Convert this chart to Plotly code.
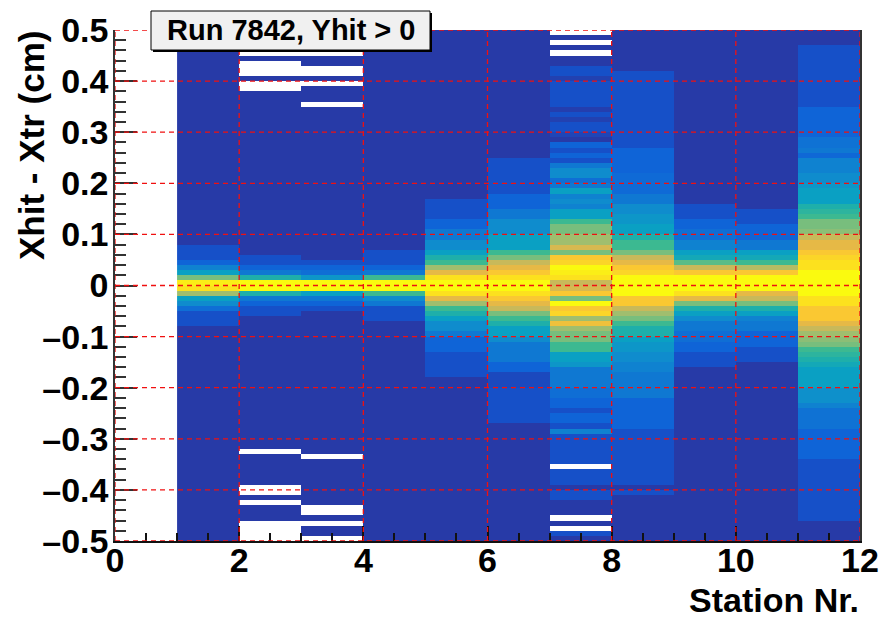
import plotly.graph_objects as go

N = None  # empty bin (white)

# Colour level (log-count class) per y bin, listed from y=+0.495 down to y=-0.495
station_1 = [0]*42 + [1,1,1,2,3.5,5,8,13.5] + [13,9,5,4,2.5,1,1,1] + [0]*42
station_2 = [0]*4 + [N,0,N,N,N,0,N,N] + [0]*32 + [1,1,2,3,6,14] + [14,6,3,2,1,1] + [0]*26 + [N] + [0]*6 + [N,N,0,N,0,0,0,N,N,N,N]
station_3 = [0]*4 + [N,0,0,N,N,0,N,0,0,0,N] + [0]*30 + [1,2,2.5,4.5,14] + [14,5,3,2,1] + [0]*28 + [N] + [0]*9 + [N,N,0,N,0,0,N]
station_4 = [0]*43 + [1,1,1,2,3,7,14] + [14,7,4,3,1,1,1] + [0]*43
station_5 = [0]*33 + [1,1,1,1,2,2,3,3,4,4,5,6,7,9,11,13,14] + [14,13,11,9,7,6,5,4,4,3,2,2,2,1,1,1,1,1] + [0]*32
station_6 = [0]*25 + [1,1,1,1,1,1,1,2,2,2,3,3,4,4,4,5,5,5,7,8,10,11,12,13,14] + [14,13,12,11,10,8,7,6,5,5,4,3,3,3,3,2,2,0.7,0.7,0.7,1,1,1,1,1,1,1] + [0]*23
station_7 = [N,0,N,0,N,0,0,1,1,0.3,1,1,1,1,1,0.2,1,0.3,1,1,0.5,0,2,1,2,1,3,4,4,2.5,3,5,3.5,4,3.5,5,5,7,8,8,9,9,10.5,8,12,12.5,14,13.5,13,10] + \
            [10.5,12,8,14,12,12.5,9,11.5,9,8,8,7,7,5,5,4.5,3,3,3,3,2.5,2.5,2,2,1,2,2,1,3.5,1,1,1,1,1,1,N,1,1,1,0,1,1,0,0,0,N,0,N,1,0]
station_8 = [0]*8 + [1]*15 + [2]*5 + [2.3]*4 + [3,3,4,4,4.5,4.5,5,5,6,7,7,8,10,11,12,12.5,14,14] + \
            [14,14,12,12,10,9,8,7,6,6,5,4.5,4.5,4,4,3.5,3.5,3,3,3,3,3,2,2,2,2,2,2] + [1]*11 + [0,1] + [0]*9
station_9 = [0]*34 + [1,1,1,2,2,2.5,2.5,3.5,3.5,5,5.5,7.5,10,12,14,14] + [14,13,11,8,6,5,4,3,3,2.5,2.5,2,2,1,1,1] + [0]*34
station_10 = [0]*35 + [1,1,1,2,2,2,3,3,5,5.5,7,9.5,12,14,14] + [14,11,10,8,6,5,3.5,3,3,2,2,2,1,1,1] + [0]*35
station_11 = [0]*3 + [1]*12 + [2]*6 + [2.7,2.7,3,2.2,3.5,3.5,3.5,4,4,4.5,5,5,5,6,6.5,7,8,8,8.5,10,11,11,12,12.5,13,13,14,14,14] + \
             [14,14,13,13,12,12,12,11,10,9,8.5,8,7,6.5,6,5.5,5,5,5,5,4.2,4.2,4.2,3.5,2.7,2.7,2.7,2.7] + [2]*6 + [1]*12 + [0]*4

columns = [station_1, station_2, station_3, station_4, station_5, station_6,
           station_7, station_8, station_9, station_10, station_11]
for c in columns:
    assert len(c) == 100, len(c)

x_edges = list(range(1, 13))
y_edges = [round(-0.5 + 0.01*k, 2) for k in range(101)]
z = [[columns[c][99-r] for c in range(11)] for r in range(100)]

palette = ["#273aa7", "#1650c8", "#0f64d7", "#0f78d2", "#0f8ccd", "#0aa0c3", "#1eafaa",
           "#3cb991", "#78be7d", "#a0be6e", "#c8b95a", "#e6b946", "#fac832", "#fce11e", "#fafa0f"]
colorscale = [[i/14, col] for i, col in enumerate(palette)]

x_ticks = [0, 2, 4, 6, 8, 10, 12]
y_ticks = [-0.5, -0.4, -0.3, -0.2, -0.1, 0, 0.1, 0.2, 0.3, 0.4, 0.5]
y_labels = ["–0.5", "–0.4", "–0.3", "–0.2", "–0.1", "0", "0.1", "0.2", "0.3", "0.4", "0.5"]

FONT = "Liberation Sans"
L, R, T, B = 115, 860, 30, 541
W, H = 881, 619
px = lambda v: (v - L) / (R - L)
py = lambda v: 1 - (v - T) / (B - T)

fig = go.Figure(go.Heatmap(x=x_edges, y=y_edges, z=z, zmin=0, zmax=14, colorscale=colorscale,
                           showscale=False, hoverongaps=False))

shapes = []
for v in x_ticks:
    shapes.append(dict(type="line", xref="x", yref="paper", x0=v, x1=v, y0=0, y1=1,
                       line=dict(color="#f01010", width=1.3, dash="5px,4px"), layer="above"))
for v in y_ticks:
    shapes.append(dict(type="line", xref="paper", yref="y", x0=0, x1=1, y0=v, y1=v,
                       line=dict(color="#f01010", width=1.3, dash="5px,4px"), layer="above"))
# title box with its drop shadow
shapes.append(dict(type="rect", xref="paper", yref="paper", x0=px(153), x1=px(432), y0=py(52), y1=py(13),
                   fillcolor="black", line=dict(width=0), layer="above"))
shapes.append(dict(type="rect", xref="paper", yref="paper", x0=px(151), x1=px(430), y0=py(50), y1=py(11),
                   fillcolor="#f0f0f0", line=dict(color="black", width=1), layer="above"))

annotations = [
    dict(text="<b>Run 7842, Yhit &gt; 0</b>", xref="paper", yref="paper", x=px(291), y=py(30), showarrow=False,
         font=dict(family=FONT, size=29, color="black"), xanchor="center", yanchor="middle"),
    dict(text="<b>Station Nr.</b>", xref="paper", yref="paper", x=px(861), y=py(600), showarrow=False,
         font=dict(family=FONT, size=34, color="black"), xanchor="right", yanchor="middle"),
    dict(text="<b>Xhit - Xtr (cm)</b>", xref="paper", yref="paper", x=px(31), y=py(146), showarrow=False,
         textangle=-90, font=dict(family=FONT, size=35, color="black"), xanchor="center", yanchor="middle"),
]

fig.update_layout(
    width=W, height=H, autosize=False,
    margin=dict(l=L, r=W-R, t=T, b=H-B, pad=0, autoexpand=False),
    paper_bgcolor="white", plot_bgcolor="white",
    shapes=shapes, annotations=annotations, showlegend=False,
    font=dict(family=FONT, color="black"),
)
fig.update_xaxes(range=[0, 12], tickvals=x_ticks, ticktext=[str(v) for v in x_ticks],
                 ticks="inside", ticklen=15, tickwidth=1.5, tickcolor="#111",
                 minor=dict(dtick=0.5, tick0=0, ticks="inside", ticklen=8, tickwidth=1.5, tickcolor="#111"),
                 showgrid=False, zeroline=False, showline=True, linecolor="#111", linewidth=1.5,
                 tickfont=dict(family=FONT, size=34, weight=700, color="black"), ticklabelstandoff=-12)
fig.update_yaxes(range=[-0.5, 0.5], tickvals=y_ticks, ticktext=y_labels,
                 ticks="inside", ticklen=22, tickwidth=1.5, tickcolor="#333",
                 minor=dict(dtick=0.02, tick0=0, ticks="inside", ticklen=11, tickwidth=1.5, tickcolor="#333"),
                 showgrid=False, zeroline=False, showline=True, linecolor="#333", linewidth=1.5, mirror=True,
                 tickfont=dict(family=FONT, size=34, weight=700, color="black"), ticklabelstandoff=-2)

fig.write_html("out.html", config=dict(displayModeBar=False),
               post_script="document.body.style.margin='0';document.documentElement.style.overflow='hidden';")
